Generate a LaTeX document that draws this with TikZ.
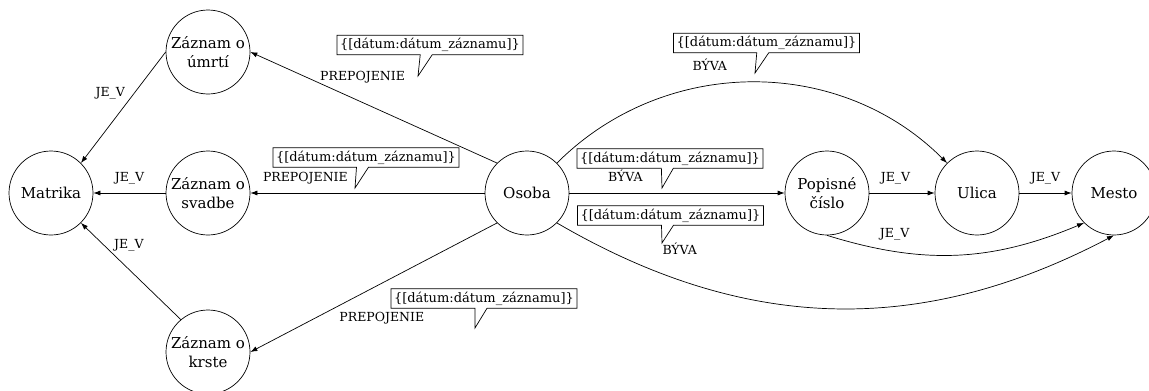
\documentclass[tikz,border=0pt]{standalone}
\usepackage{fontspec}
\setmainfont{DejaVu Serif}
\usepackage{tikz}
\usetikzlibrary{arrows.meta,positioning,shapes.callouts}
\tikzstyle{entity}=[draw,circle,minimum size=84pt,inner sep=0pt,align=center,font=\fontsize{15}{19}\selectfont]
\tikzstyle{rel}=[inner sep=1pt,text height=9pt,text depth=2pt,font=\fontsize{12.5}{14}\selectfont]
\tikzstyle{attr}=[draw,rectangle callout,callout pointer width=12pt,inner sep=3pt,font=\fontsize{13}{15}\selectfont]

\begin{document}
\begin{tikzpicture}[x=1pt,y=1pt,on grid,line width=0.7pt,>={Latex[length=7pt,width=5pt]}]
\useasboundingbox (0,0) rectangle (1149,-391);
\node [entity] (matrika) at (51,-193) {Matrika};
\node [entity] [right=157pt of matrika] (svadba) {Záznam o\\svadbe};
\node [entity] [above=141pt of svadba] (umrtie) {Záznam o\\úmrtí};
\node [entity] [below=159pt of svadba] (krst) {Záznam o\\krste};
\node [entity] [right=319pt of svadba] (osoba) {Osoba};
\node [entity] [right=300pt of osoba] (cislo) {Popisné\\číslo};
\node [entity] [right=150pt of cislo] (ulica) {Ulica};
\node [entity] [right=137pt of ulica] (mesto) {Mesto};

% matrika
\draw [->] (umrtie.west) -- node [rel,pos=0.37,xshift=-24pt] {JE\_V} (matrika.45);
\draw [->] (svadba) -- node [rel,yshift=15pt] {JE\_V} (matrika);
\draw [->] (krst.130) -- node [rel,pos=0.77,xshift=25pt] {JE\_V} (matrika.-45);

% osoba
\draw [->] (osoba.135) -- node [rel,pos=0.545,yshift=26pt] {PREPOJENIE} (umrtie.east);
\draw [->] (osoba) -- node [rel,pos=0.765,yshift=15pt] {PREPOJENIE} (svadba);
\draw [->] (osoba.225) -- node [rel,pos=0.467,yshift=-35pt] {PREPOJENIE} (krst.east);
\draw [->] (osoba) -- node [rel,pos=0.26,yshift=15pt] {BÝVA} (cislo);
\draw [->] (osoba.45) to [bend left=45] node [rel,pos=0.4,yshift=19pt] {BÝVA} (ulica.135);
\draw [->] (osoba.315) to [bend right=29] node [rel,pos=0.22,yshift=29pt] {BÝVA} (mesto.south);

% adresa
\draw [->] (cislo) -- node [rel,pos=0.4,yshift=15pt] {JE\_V} (ulica);
\draw [->] (ulica) -- node [rel,yshift=15pt] {JE\_V} (mesto);
\draw [->] (cislo.south) to [bend right=20] node [rel,pos=0.25,yshift=17pt] {JE\_V} (mesto.225);

% atributy
\node [attr,callout absolute pointer={(418,-76)}] (a1) at (430,-45) {\{[dátum:dátum\_záznamu]\}};
\node [attr,callout absolute pointer={(355,-188)}] (a2) at (366,-157.5) {\{[dátum:dátum\_záznamu]\}};
\node [attr,callout absolute pointer={(475,-328)}] (a3) at (484,-298.5) {\{[dátum:dátum\_záznamu]\}};
\node [attr,callout absolute pointer={(662,-188)}] (a4) at (670,-158.5) {\{[dátum:dátum\_záznamu]\}};
\node [attr,callout absolute pointer={(755,-73)}] (a5) at (766.5,-43) {\{[dátum:dátum\_záznamu]\}};
\node [attr,callout absolute pointer={(662,-243)}] (a6) at (670.5,-215.5) {\{[dátum:dátum\_záznamu]\}};
\end{tikzpicture}
\end{document}
